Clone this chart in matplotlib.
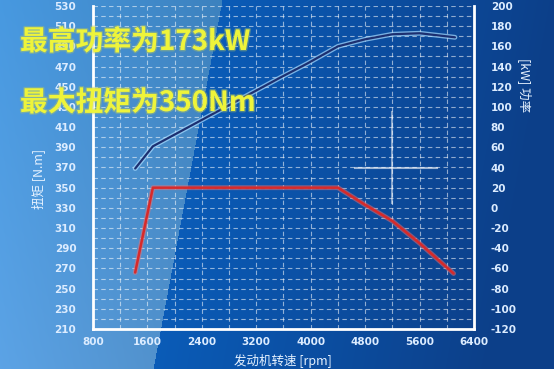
import numpy as np
import matplotlib
matplotlib.use("Agg")
import matplotlib.pyplot as plt
import matplotlib.patheffects as pe

plt.rcParams['font.family'] = ['Noto Sans CJK SC', 'DejaVu Sans']

# torque curve (left axis, N.m)
rpm_t = [1420, 1680, 4400, 4800, 5200, 5600, 6100]
torque = [266, 350, 350, 333, 317, 295, 265]

# power curve (right axis, kW)
rpm_p = [1420, 1680, 3550, 3950, 4400, 4800, 5200, 5600, 6120]
power = [39, 61, 129, 143, 160, 167, 172, 173, 169]

x_ticks = list(range(800, 6401, 800))
t_ticks = list(range(210, 531, 20))
p_ticks = list(range(-120, 201, 20))

title1 = "最高功率为173kW"
title2 = "最大扭矩为350Nm"

W, H = 554, 369
fig = plt.figure(figsize=(W / 100, H / 100), dpi=100)

# background: light blue on the left, darker blue right of a diagonal
bg = fig.add_axes([0, 0, 1, 1])
yy, xx = np.mgrid[0:H, 0:W]
edge = 222 - 0.187 * yy
light = np.array([0.28, 0.60, 0.88])
light2 = np.array([0.36, 0.64, 0.90])
dark = np.array([0.04, 0.36, 0.72])
dark2 = np.array([0.05, 0.25, 0.54])
fy = (yy / H)[..., None]
fl = np.clip(xx / 220.0, 0, 1)[..., None]
img_l = light * (1 - fy) + light2 * fy
img_l = img_l * (1 - 0.15 * fl)
fd = np.clip((xx - edge) / 330.0, 0, 1)[..., None]
img_d = dark * (1 - fd) + dark2 * fd
mask = (xx < edge)[..., None]
img = np.where(mask, img_l, img_d)
bg.imshow(img, aspect='auto', extent=[0, W, H, 0])
bg.set_xlim(0, W)
bg.set_ylim(H, 0)
bg.axis('off')

ax = fig.add_axes([93 / W, 40 / H, (474 - 93) / W, (329 - 6) / H])
ax.patch.set_alpha(0)
ax.set_xlim(800, 6400)
ax.set_ylim(210, 530)
ax.set_xticks(x_ticks)
ax.set_yticks(t_ticks)
ax.set_xticks(range(800, 6401, 400), minor=True)
ax.set_yticks(range(210, 531, 10), minor=True)
ax.grid(which='both', color='white', alpha=0.55, linestyle=(0, (4, 3)), linewidth=0.8)

lab = dict(color='#dcecff', fontsize=7.5, fontweight='bold', family='DejaVu Sans')
ax.set_xticklabels([str(v) for v in x_ticks], **lab)
ax.set_yticklabels([str(v) for v in t_ticks], **lab)
ax.tick_params(axis='both', which='both', length=0)
ax.tick_params(axis='y', pad=12)
ax.tick_params(axis='x', pad=6)
for s in ['left', 'bottom', 'right']:
    ax.spines[s].set_color('white')
    ax.spines[s].set_linewidth(2)
ax.spines['top'].set_visible(False)

ax2 = ax.twinx()
ax2.set_ylim(-120, 200)
ax2.set_yticks(p_ticks)
ax2.set_yticklabels([str(v) for v in p_ticks], **lab)
ax2.tick_params(axis='y', length=0, pad=12)
for s in ax2.spines.values():
    s.set_visible(False)

# flare decorations
ax2.plot([4650, 5850], [40, 40], color='white', alpha=0.6, lw=1.5)
ax2.plot([5200, 5200], [5, 95], color='white', alpha=0.5, lw=1.5)

ax.plot(rpm_t, torque, color='#f07070', lw=3.5, alpha=0.5, solid_capstyle='round')
ax.plot(rpm_t, torque, color='#d82a2a', lw=1.8, solid_capstyle='round')

ax2.plot(rpm_p, power, color='#a8dcff', lw=3.5, alpha=0.7, solid_capstyle='round')
ax2.plot(rpm_p, power, color='#1c2f70', lw=1.6, solid_capstyle='round')

fig.text(283 / W, 1 - 361 / H, "发动机转速 [rpm]", color='#e6f2ff', fontsize=9,
         ha='center', va='center')
fig.text(38 / W, 1 - 179 / H, "扭矩 [N.m]", color='#e6f2ff', fontsize=9,
         ha='center', va='center', rotation=90)
fig.text(525 / W, 1 - 85 / H, "[kW] 功率", color='#e6f2ff', fontsize=9,
         ha='center', va='center', rotation=270)

glow = [pe.withStroke(linewidth=2, foreground='#b8c860', alpha=0.4)]
fig.text(20 / W, 1 - 42 / H, title1, color='#eef43a', fontsize=20, fontweight='bold',
         ha='left', va='center', path_effects=glow)
fig.text(20 / W, 1 - 103 / H, title2, color='#eef43a', fontsize=20, fontweight='bold',
         ha='left', va='center', path_effects=glow)

fig.savefig("out.png", dpi=100)
